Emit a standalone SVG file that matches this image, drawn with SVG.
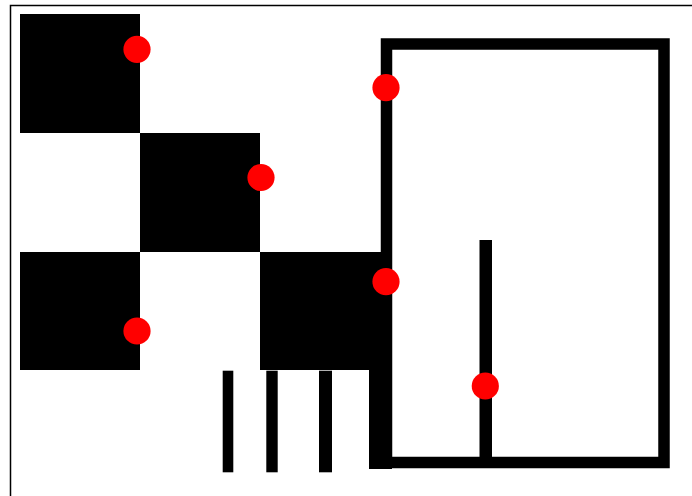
<svg xmlns="http://www.w3.org/2000/svg" width="692" height="496" viewBox="0 0 692 496">
<style>
.blk{fill:#000}
.dot{fill:#ff0000}
.frame{fill:none;stroke:#000;stroke-width:1.5}
.wall{fill:none;stroke:#000;stroke-width:11.5}
</style>
<rect width="692" height="496" fill="#fff"/>
<rect class="frame" x="10.5" y="5.5" width="700" height="520"/>
<g id="squares">
<rect id="sq1" class="blk" x="20" y="14" width="120" height="119"/>
<rect id="sq2" class="blk" x="140" y="133" width="120" height="119"/>
<rect id="sq3" class="blk" x="20" y="252" width="120" height="118"/>
<rect id="sq4" class="blk" x="260" y="252" width="122" height="118"/>
</g>
<g id="room">
<rect class="wall" x="386.5" y="44" width="277.5" height="418.5"/>
<rect class="blk" x="369" y="370" width="23" height="99"/>
<rect id="inner-bar" class="blk" x="479.5" y="240" width="12.5" height="218"/>
</g>
<g id="bars">
<rect class="blk" x="222.7" y="370.7" width="10.6" height="101.6"/>
<rect class="blk" x="266.3" y="370.7" width="11.4" height="101.6"/>
<rect class="blk" x="319" y="370.7" width="13" height="101.6"/>
</g>
<g id="dots">
<circle class="dot" cx="137" cy="49.3" r="13.6"/>
<circle class="dot" cx="386" cy="87.7" r="13.6"/>
<circle class="dot" cx="261" cy="177.5" r="13.6"/>
<circle class="dot" cx="386" cy="281.7" r="13.6"/>
<circle class="dot" cx="137" cy="331" r="13.6"/>
<circle class="dot" cx="485.3" cy="386" r="13.6"/>
</g>
<g id="connectors"></g>
</svg>
